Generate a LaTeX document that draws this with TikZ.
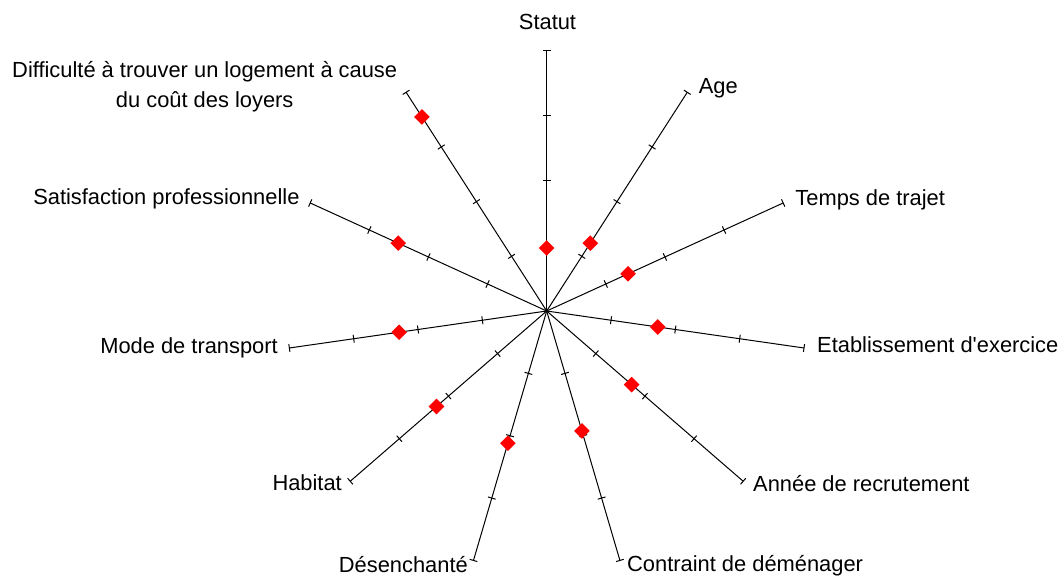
\documentclass[tikz,border=0pt]{standalone}
\usepackage{fontspec}
\setmainfont{Liberation Sans}
\usetikzlibrary{shapes.geometric}
\usetikzlibrary{decorations.markings}

\begin{document}
\begin{tikzpicture}[x=0.75pt,y=0.75pt,line width=0.75pt,
  spoke/.style={draw,postaction={decorate,decoration={markings,
      mark=at position 0.25 with {\draw (0,-3pt)--(0,3pt);},
      mark=at position 0.5 with {\draw (0,-3pt)--(0,3pt);},
      mark=at position 0.75 with {\draw (0,-3pt)--(0,3pt);},
      mark=at position 1 with {\draw (0,-3pt)--(0,3pt);}}}},
  score/.style={diamond,fill=red,inner sep=0pt,minimum size=12pt},
  lbl/.style={inner sep=0pt,font=\fontsize{16.4}{22.6}\selectfont}]
  \useasboundingbox (-546.7,-267) rectangle (511.3,311);
  \coordinate (o) at (0,0);
  \coordinate (statutend) at (90:260);
  \coordinate (ageend) at (57.27:260);
  \coordinate (trajetend) at (24.55:260);
  \coordinate (etabend) at (-8.18:260);
  \coordinate (anneeend) at (-40.91:260);
  \coordinate (contraintend) at (-73.64:260);
  \coordinate (desenchend) at (-106.36:260);
  \coordinate (habitatend) at (-139.09:260);
  \coordinate (modeend) at (-171.82:260);
  \coordinate (satisfend) at (155.45:260);
  \coordinate (difficend) at (122.73:260);
  \draw[spoke] (o)--(statutend);
  \draw[spoke] (o)--(ageend);
  \draw[spoke] (o)--(trajetend);
  \draw[spoke] (o)--(etabend);
  \draw[spoke] (o)--(anneeend);
  \draw[spoke] (o)--(contraintend);
  \draw[spoke] (o)--(desenchend);
  \draw[spoke] (o)--(habitatend);
  \draw[spoke] (o)--(modeend);
  \draw[spoke] (o)--(satisfend);
  \draw[spoke] (o)--(difficend);
  % valeurs
  \node[score] (statutval) at (90:63) {};
  \node[score] (ageval) at (57.27:80.6) {};
  \node[score] (trajetval) at (24.55:89.5) {};
  \node[score] (etabval) at (-8.18:112.2) {};
  \node[score] (anneeval) at (-40.91:112.4) {};
  \node[score] (contraintval) at (-73.64:125) {};
  \node[score] (desenchval) at (-106.36:137.8) {};
  \node[score] (habitatval) at (-139.09:145.8) {};
  \node[score] (modeval) at (-171.82:149.1) {};
  \node[score] (satisfval) at (155.45:163.2) {};
  \node[score] (difficval) at (122.73:230.7) {};
  % libelles
  \node[lbl,anchor=base] (statut) at (0.8,281.7) {Statut};
  \node[lbl,anchor=base west] (age) at (151.6,217.7) {Age};
  \node[lbl,anchor=base west] (trajet) at (248.3,105.3) {Temps de trajet};
  \node[lbl,anchor=base west] (etab) at (270,-41.3) {Etablissement d\textquotesingle exercice};
  \node[lbl,anchor=base west] (annee) at (206,-180.7) {Année de recrutement};
  \node[lbl,anchor=base west] (contraint) at (80,-260.7) {Contraint de déménager};
  \node[lbl,anchor=base east] (desench) at (-78.4,-261) {Désenchanté};
  \node[lbl,anchor=base east] (habitat) at (-204.4,-180) {Habitat};
  \node[lbl,anchor=base east] (mode) at (-268.4,-42.3) {Mode de transport};
  \node[lbl,anchor=base east] (satisf) at (-246.7,106) {Satisfaction professionnelle};
  \node[lbl,align=center,anchor=north] (diffic) at (-342,250) {Difficulté à trouver un logement à cause\\du coût des loyers};
\end{tikzpicture}
\end{document}
